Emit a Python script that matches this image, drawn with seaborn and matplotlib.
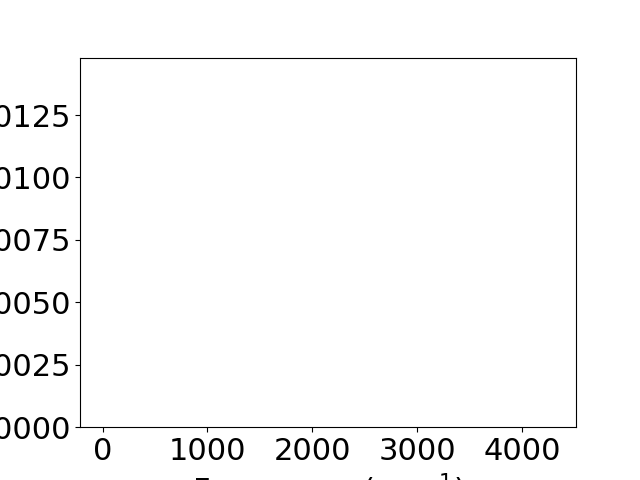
import matplotlib
matplotlib.use("Agg")
import matplotlib.pyplot as plt
import seaborn as sns
import pandas as pd

# Data (the reference axes are empty)
frequency = []
intensity = []
x_ticks = [0, 1000, 2000, 3000, 4000]
y_ticks = [0.0, 0.0025, 0.0050, 0.0075, 0.0100, 0.0125]
x_limits = (-215, 4515)
y_limits = (0.0, 0.0148)

plt.rcParams['font.size'] = 22
fig, ax = plt.subplots(figsize=(6.4, 4.8), dpi=100)
df = pd.DataFrame({"Frequency": pd.Series(frequency, dtype=float),
                   "Intensity": pd.Series(intensity, dtype=float)})
sns.lineplot(data=df, x="Frequency", y="Intensity", ax=ax)
ax.set_xlim(*x_limits)
ax.set_ylim(*y_limits)
ax.set_xticks(x_ticks)
ax.set_yticks(y_ticks)
ax.set_yticklabels([f"{v:.4f}" for v in y_ticks])
ax.tick_params(labelsize=22)
ax.set_xlabel("Frequency (cm$^{-1}$)", fontsize=22)
ax.set_ylabel("Intensity", fontsize=22)
fig.savefig("out.png", dpi=100)
